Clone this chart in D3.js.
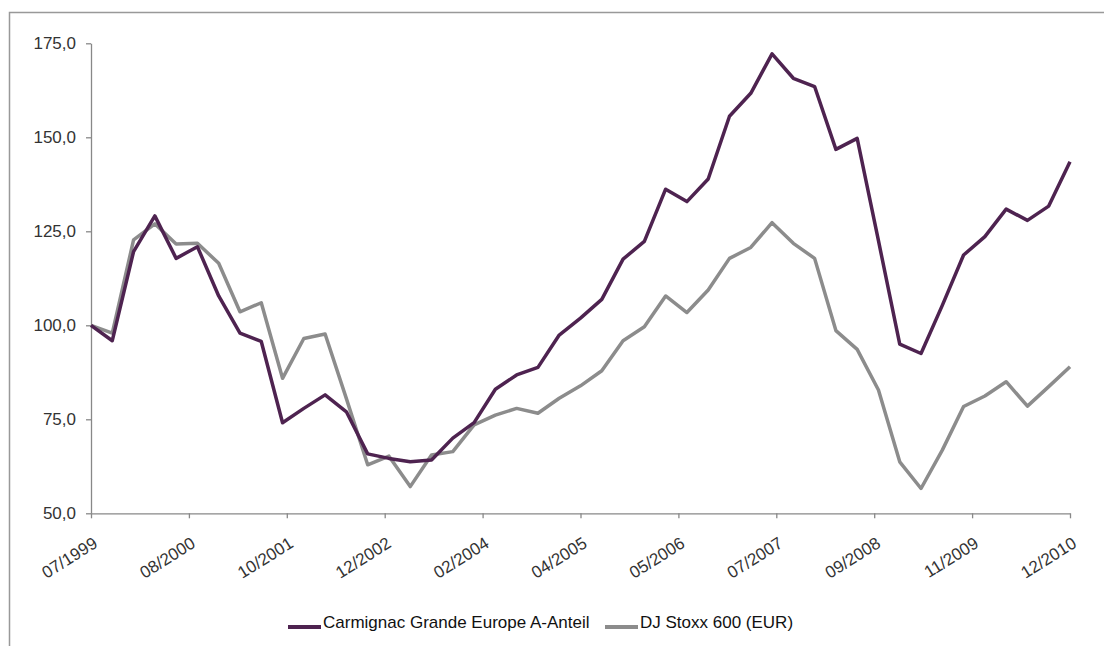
<!DOCTYPE html>
<html>
<head>
<meta charset="utf-8">
<script src="https://cdn.jsdelivr.net/npm/d3@7"></script>
<style>
  body { margin: 0; background: #fff; }
  svg { display: block; font-family: "Liberation Sans", Arial, sans-serif; }
</style>
</head>
<body>
<svg width="1104" height="646"></svg>
<script>
// quarterly index values, both start at 100
const fundName = "Carmignac Grande Europe A-Anteil";
const indexName = "DJ Stoxx 600 (EUR)";

const fundValues = [100, 95.9, 119.6, 129.1, 117.8, 120.9, 107.8, 97.9, 95.7, 74.1,
  77.9, 81.5, 77.0, 65.8, 64.6, 63.7, 64.2, 70.0, 74.1, 83.0,
  86.8, 88.8, 97.4, 101.9, 106.9, 117.6, 122.3, 136.2, 132.9, 138.9,
  155.6, 161.7, 172.2, 165.7, 163.5, 146.8, 149.7, 122.5, 95.0, 92.5,
  105.3, 118.7, 123.6, 130.9, 127.9, 131.7, 143.5];

const indexValues = [100, 97.9, 122.7, 127.0, 121.6, 121.8, 116.5, 103.6, 106.0, 85.9,
  96.5, 97.7, 80.5, 62.9, 65.2, 57.1, 65.5, 66.4, 73.5, 76.1,
  77.9, 76.6, 80.6, 83.9, 87.9, 95.9, 99.6, 107.8, 103.4, 109.4,
  117.8, 120.7, 127.3, 121.8, 117.8, 98.6, 93.6, 82.8, 63.7, 56.6,
  66.8, 78.4, 81.2, 85.0, 78.5, 83.7, 89.0];

const xLabels = ["07/1999", "08/2000", "10/2001", "12/2002", "02/2004", "04/2005",
  "05/2006", "07/2007", "09/2008", "11/2009", "12/2010"];
const yTicks = [50, 75, 100, 125, 150, 175];

const plotLeft = 91, plotRight = 1070, plotTop = 43.3, plotBottom = 513.3;

const svg = d3.select("svg");

// outer frame (runs off the right and bottom edge)
svg.append("rect")
  .attr("x", 9.5).attr("y", 12.5)
  .attr("width", 1200).attr("height", 700)
  .attr("fill", "none")
  .attr("stroke", "#999")
  .attr("stroke-width", 1.5);

const n = fundValues.length;
const x = d3.scaleLinear().domain([0, n - 1]).range([plotLeft, plotRight]);
const y = d3.scaleLinear().domain([50, 175]).range([plotBottom, plotTop]);

// Y axis
const yAxis = svg.append("g")
  .attr("transform", `translate(${plotLeft},0)`)
  .call(d3.axisLeft(y)
    .tickValues(yTicks)
    .tickSize(5)
    .tickSizeOuter(0)
    .tickPadding(10)
    .tickFormat(d => d3.format(".1f")(d).replace(".", ",")));

// X axis, labels spread evenly over the period
const xTickPos = xLabels.map((d, i) => i * (n - 1) / (xLabels.length - 1));
const xAxis = svg.append("g")
  .attr("transform", `translate(0,${plotBottom})`)
  .call(d3.axisBottom(x)
    .tickValues(xTickPos)
    .tickSize(5)
    .tickSizeOuter(0)
    .tickFormat((d, i) => xLabels[i]));

xAxis.selectAll("text")
  .attr("x", 0).attr("y", 0).attr("dy", "0.35em")
  .attr("text-anchor", "end")
  .attr("transform", "translate(4,28) rotate(-32)");

[yAxis, xAxis].forEach(a => {
  a.selectAll("path, line").attr("stroke", "#888").attr("stroke-width", 1.3);
  a.selectAll("text")
    .attr("fill", "#333")
    .attr("font-size", "17px")
    .attr("font-family", "Liberation Sans, Arial, sans-serif");
});

// lines
const line = d3.line()
  .x((d, i) => x(i))
  .y(d => y(d));

svg.append("path")
  .datum(indexValues)
  .attr("fill", "none")
  .attr("stroke", "#8c8c8c")
  .attr("stroke-width", 3.5)
  .attr("stroke-linejoin", "round")
  .attr("d", line);

svg.append("path")
  .datum(fundValues)
  .attr("fill", "none")
  .attr("stroke", "#4e2350")
  .attr("stroke-width", 3.5)
  .attr("stroke-linejoin", "round")
  .attr("d", line);

// legend
const legend = [
  {name: fundName, color: "#4e2350", x: 288},
  {name: indexName, color: "#8c8c8c", x: 605}
];
const lg = svg.selectAll(".legend").data(legend).enter().append("g")
  .attr("class", "legend")
  .attr("transform", d => `translate(${d.x},622)`);

lg.append("line")
  .attr("x1", 0).attr("x2", 33)
  .attr("y1", 5).attr("y2", 5)
  .attr("stroke", d => d.color)
  .attr("stroke-width", 4);

lg.append("text")
  .attr("x", 35)
  .attr("y", 0)
  .attr("dy", "0.35em")
  .attr("font-size", "17px")
  .attr("fill", "#111")
  .text(d => d.name);
</script>
</body>
</html>
